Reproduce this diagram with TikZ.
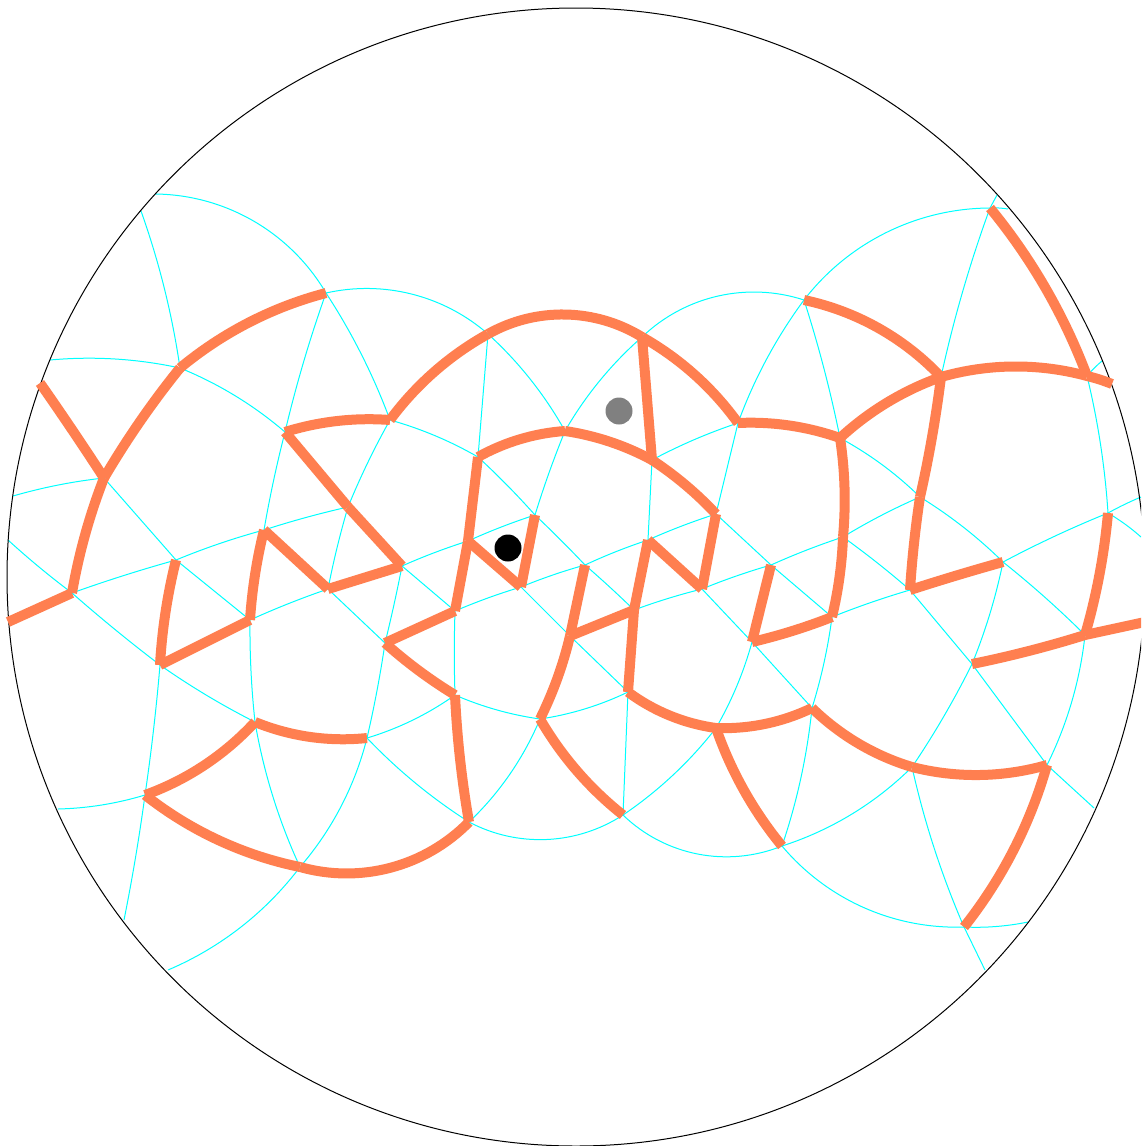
\documentclass[tikz,border=0pt]{standalone}
\newcommand\vtx[3]{\coordinate (#1) at (#2,#3);\expandafter\gdef\csname vx#1\endcsname{#2}\expandafter\gdef\csname vy#1\endcsname{#3}}
% circular arc between two named vertices; #4 = sagitta in px (+ = left of travel on screen)
\newcommand\geo[4]{%
 \edef\gAx{\csname vx#2\endcsname}\edef\gAy{\csname vy#2\endcsname}%
 \edef\gBx{\csname vx#3\endcsname}\edef\gBy{\csname vy#3\endcsname}%
 \pgfmathsetmacro\gL{veclen(\gBx-\gAx,\gBy-\gAy)}%
 \pgfmathsetmacro\gUx{(\gBx-\gAx)/\gL}%
 \pgfmathsetmacro\gUy{(\gBy-\gAy)/\gL}%
 \pgfmathsetmacro\gQ{2*(#4)/\gL}%
 \pgfmathsetmacro\gH{\gL/3*(1-\gQ*\gQ)}%
 \pgfmathsetmacro\gS{4/3*(#4)}%
 \pgfmathsetmacro\gOx{\gAx+\gH*\gUx+\gS*\gUy}%
 \pgfmathsetmacro\gOy{\gAy+\gH*\gUy-\gS*\gUx}%
 \pgfmathsetmacro\gWx{\gBx-\gH*\gUx+\gS*\gUy}%
 \pgfmathsetmacro\gWy{\gBy-\gH*\gUy-\gS*\gUx}%
 \draw[#1] (#2) .. controls (\gOx,\gOy) and (\gWx,\gWy) .. (#3);}
\newcommand\cy[3]{\geo{gridline}{#1}{#2}{#3}}
\newcommand\wl[3]{\geo{wall}{#1}{#2}{#3}}
\definecolor{wallc}{RGB}{255,127,80}
\definecolor{gridc}{RGB}{0,255,255}
\begin{document}
\begin{tikzpicture}[x=1pt,y=-1pt,
  gridline/.style={draw=gridc,line width=1pt},
  wall/.style={draw=wallc,line width=10pt,line cap=square},
  rim/.style={draw=black,line width=1pt},
  blackdot/.style={circle,fill=black,minimum size=27pt,inner sep=0pt},
  graydot/.style={circle,fill=black!50,minimum size=27pt,inner sep=0pt}]
\clip (0,0) rectangle (1141,1146);
\vtx{oa}{155}{194}\vtx{ob}{141}{211}\vtx{oc}{50}{360}\vtx{od}{40}{383}\vtx{oe}{13}{496}\vtx{of}{8}{540}
\vtx{og}{8}{622}\vtx{oh}{58}{809}\vtx{oi}{124}{920}\vtx{oj}{168}{970}\vtx{ok}{985}{970}\vtx{ol}{1028}{922}
\vtx{om}{1094}{808}\vtx{on}{1145}{622}\vtx{oo}{1141}{537}\vtx{op}{1141}{497}\vtx{oq}{1112}{384}\vtx{or}{1102}{361}
\vtx{os}{997}{195}\vtx{ot}{1008}{209}
\vtx{na}{72}{593}\vtx{nb}{104}{478}\vtx{nc}{160}{665}\vtx{nd}{145}{795}\vtx{ne}{176}{560}\vtx{nf}{180}{368}
\vtx{ng}{250}{620}\vtx{nh}{255}{722}\vtx{ni}{264}{530}\vtx{nj}{285}{432}\vtx{nk}{300}{867}\vtx{nl}{326}{293}
\vtx{nm}{328}{589}\vtx{nn}{348}{507}\vtx{no}{367}{738}\vtx{np}{385}{643}\vtx{nq}{390}{420}\vtx{nr}{402}{566}
\vtx{ns}{455}{611}\vtx{nt}{455}{695}\vtx{nu}{468}{541}\vtx{nv}{469}{822}\vtx{nw}{478}{457}\vtx{nx}{488}{334}
\vtx{ny}{521}{587}\vtx{nz}{535}{515}
\vtx{ma}{540}{719}\vtx{mb}{565}{431}\vtx{mc}{570}{636}\vtx{md}{585}{565}\vtx{me}{623}{815}\vtx{mf}{628}{692}
\vtx{mg}{634}{610}\vtx{mh}{642}{337}\vtx{mi}{648}{540}\vtx{mj}{652}{460}\vtx{mk}{702}{589}\vtx{ml}{716}{514}
\vtx{mm}{716}{728}\vtx{mn}{738}{423}\vtx{mo}{752}{642}\vtx{mp}{771}{565}\vtx{mq}{782}{846}\vtx{mr}{804}{300}
\vtx{ms}{812}{708}\vtx{mt}{832}{617}\vtx{mu}{840}{438}\vtx{mv}{843}{537}\vtx{mw}{910}{590}\vtx{mx}{912}{767}
\vtx{my}{920}{497}\vtx{mz}{941}{377}
\vtx{ka}{964}{927}\vtx{kb}{972}{664}\vtx{kc}{990}{208}\vtx{kd}{1003}{562}\vtx{ke}{1047}{765}\vtx{kf}{1085}{635}
\vtx{kg}{1087}{376}\vtx{kh}{1108}{513}
% grid edges that carry no wall
\cy{oa}{nl}{26}\cy{ob}{nf}{4}\cy{oc}{nf}{5}\cy{nf}{nj}{5}\cy{oe}{nb}{2}\cy{of}{na}{-1}\cy{nb}{ne}{0}
\cy{nl}{nq}{4}\cy{nl}{nj}{-2}\cy{nj}{ni}{-1}\cy{nl}{nx}{20}\cy{nx}{mb}{5}\cy{nx}{nw}{0}
\cy{mh}{mr}{23}\cy{mb}{mh}{5}\cy{nz}{mb}{1}\cy{nq}{nw}{3}\cy{nw}{nz}{1}\cy{nz}{md}{0.5}\cy{md}{mg}{0.5}
\cy{na}{ne}{1}\cy{ne}{ni}{1.5}\cy{ni}{nn}{1}\cy{ng}{nm}{1}\cy{nr}{nu}{1}\cy{nu}{nz}{1}
\cy{ns}{ny}{1}\cy{ny}{md}{1}\cy{md}{mi}{1}\cy{mi}{ml}{1}\cy{mg}{mk}{1}\cy{mk}{mp}{1}\cy{mp}{mv}{1}\cy{mv}{my}{1.5}
\cy{mt}{mw}{1}\cy{kd}{kh}{1.5}\cy{kh}{op}{0.5}
\cy{na}{nc}{-1}\cy{nc}{nh}{-2}\cy{ne}{ng}{0}\cy{ng}{nh}{-1.5}\cy{nm}{np}{0}\cy{nt}{ma}{-3}\cy{ma}{mf}{-3.5}
\cy{nr}{ns}{0}\cy{ns}{nt}{-0.7}\cy{ny}{mc}{0}\cy{mc}{mf}{0}\cy{mk}{mo}{0}\cy{mo}{ms}{0}\cy{ml}{mp}{0}\cy{mp}{mt}{0}
\cy{mt}{ms}{2}\cy{mj}{mi}{0}\cy{mn}{ml}{0}\cy{mj}{mn}{2}
\cy{mr}{mu}{2}\cy{mn}{mr}{5}\cy{mz}{kc}{3}\cy{mr}{kc}{24}\cy{kc}{ot}{0.5}\cy{kc}{os}{0}\cy{kg}{or}{0.5}
\cy{kg}{kh}{3}\cy{mu}{my}{3.5}\cy{my}{kd}{3}\cy{kd}{kf}{1.5}\cy{kh}{oo}{1}\cy{mv}{mw}{1}
\cy{mw}{kb}{0}\cy{kb}{ke}{0}\cy{ke}{om}{0}\cy{kd}{kb}{2.5}\cy{mx}{kb}{-2}\cy{mq}{mx}{-9}\cy{kf}{ke}{6}
\cy{mx}{ka}{-4}\cy{ka}{ok}{0}\cy{ka}{ol}{-2}\cy{mq}{ka}{-23}\cy{ms}{mq}{4}\cy{mo}{mm}{3}\cy{me}{mm}{-5}
\cy{me}{mq}{-24}\cy{mf}{me}{0}\cy{nv}{ma}{-6.5}\cy{nv}{me}{-21}\cy{nk}{no}{-8.5}\cy{oj}{nk}{-11}\cy{nh}{nk}{-5}
\cy{nc}{nd}{1}\cy{nd}{oi}{1}\cy{oh}{nd}{-3}\cy{no}{nt}{-4}\cy{np}{no}{1}\cy{no}{nv}{-4}
\cy{nn}{nm}{-1}\cy{nn}{nq}{1.5}\cy{nr}{np}{0.5}
% boundary circle
\draw[rim] (576,577) circle [radius=569];
% walls
\wl{nf}{nl}{9}\wl{nb}{nf}{2.5}\wl{na}{nb}{3}\wl{od}{nb}{0.5}\wl{og}{na}{0}
\wl{nj}{nq}{5}\wl{nj}{nn}{0}\wl{nn}{nr}{0}\wl{nq}{nx}{7}\wl{nx}{mh}{21}\wl{mh}{mn}{7}\wl{mh}{mj}{0}
\wl{nw}{mb}{5}\wl{mb}{mj}{4}\wl{mj}{ml}{2.5}\wl{nw}{nu}{0}\wl{nu}{ns}{0}\wl{nu}{ny}{0}\wl{nz}{ny}{0}
\wl{ni}{nm}{0}\wl{nm}{nr}{0}\wl{ni}{ng}{-2}\wl{nc}{ng}{0}\wl{ne}{nc}{-2.5}
\wl{np}{ns}{0}\wl{np}{nt}{-2}\wl{nt}{nv}{-2}\wl{nk}{nv}{-24}\wl{nd}{nk}{-10}\wl{nd}{nh}{-8}\wl{nh}{no}{-7}
\wl{md}{mc}{0}\wl{mc}{ma}{2.5}\wl{ma}{me}{-6}\wl{mc}{mg}{0}\wl{mi}{mg}{0}\wl{mg}{mf}{0}\wl{mf}{mm}{-6}\wl{mm}{ms}{-6}\wl{mm}{mq}{-6}
\wl{mi}{mk}{0}\wl{ml}{mk}{0}\wl{mp}{mo}{0}\wl{mo}{mt}{-1.5}\wl{mv}{mt}{2}\wl{mu}{mv}{3}\wl{mn}{mu}{5}\wl{mu}{mz}{6}\wl{mr}{mz}{12}
\wl{mz}{kg}{10}\wl{kg}{oq}{0.5}\wl{kc}{kg}{8}\wl{mz}{my}{1.5}\wl{my}{mw}{-1}\wl{mw}{kd}{0.5}
\wl{kh}{kf}{3}\wl{kb}{kf}{-1.5}\wl{kf}{on}{0}\wl{ms}{mx}{-7}\wl{mx}{ke}{-9}\wl{ke}{ka}{9}
% markers
\node[blackdot] (start) at (508,548) {};
\node[graydot] (goal) at (619,411) {};
\end{tikzpicture}
\end{document}
